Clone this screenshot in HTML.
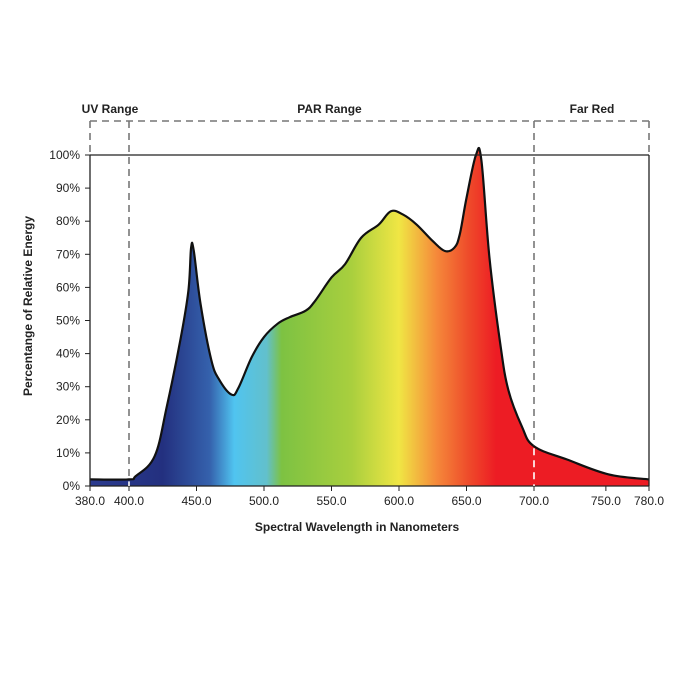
<!DOCTYPE html>
<html><head><meta charset="utf-8"><style>
body{margin:0;background:#fff}
svg{display:block;font-family:"Liberation Sans",Arial,sans-serif}
</style></head><body>
<svg id="chart" width="700" height="700" viewBox="0 0 700 700">
<defs><linearGradient id="spec" gradientUnits="userSpaceOnUse" x1="90" y1="0" x2="649" y2="0"></linearGradient></defs>
<g id="marks"></g>
<g id="axes"></g>
</svg>
<script>
const wavelengths=[380,400,405,419,428,438,444,446,448,453,461,467,476,481,491,500,510,519,531,538,550,560,572,585,594,603,613,625,634,641,645,650,657,661,667,675,681,691,700,723,752,780];
const energy=[2,2,3,9,24,44,59,72,71,55,38,32,27.6,29.6,39,45,49,51,53,56,63,67,75,79,83,82,79,74,71,72,76,87,100,98.5,69,43,29,18,12,8,3.5,2];
const yTicks=[0,10,20,30,40,50,60,70,80,90,100];
const xTicks=[380,400,450,500,550,600,650,700,750,780];
const ranges=[{label:"UV Range",from:380,to:400},{label:"PAR Range",from:400,to:700},{label:"Far Red",from:700,to:780}];
const colorStops=[[380,"#2b3b8f"],[425,"#23307f"],[460,"#3562ad"],[478,"#50c4f0"],[502,"#62c0cc"],[513,"#7dc242"],[565,"#a9cf3e"],[600,"#f0e644"],[628,"#f5883a"],[652,"#ee4a2a"],[672,"#ed1c24"],[780,"#ed1c24"]];

const dom=[380,400,700,780], rng=[90,129,534,649];
function X(v){for(let i=0;i<dom.length-1;i++){if(v<=dom[i+1]||i==dom.length-2){return rng[i]+(v-dom[i])/(dom[i+1]-dom[i])*(rng[i+1]-rng[i]);}}}
function Y(p){return 486-p*3.31;}
const NS="http://www.w3.org/2000/svg";
const svg=document.getElementById('chart'),marks=document.getElementById('marks'),axes=document.getElementById('axes');
function mk(tag,attrs,parent){const e=document.createElementNS(NS,tag);for(const k in attrs)e.setAttribute(k,attrs[k]);parent.appendChild(e);return e;}

const grad=document.getElementById('spec');
colorStops.forEach(s=>{mk('stop',{offset:((X(s[0])-90)/559).toFixed(4),'stop-color':s[1]},grad);});

// smooth path (Catmull-Rom)
const pts=wavelengths.map((w,i)=>[X(w),Y(energy[i])]);
function smooth(p){let d=`M${p[0][0]},${p[0][1]}`;for(let i=0;i<p.length-1;i++){const p0=p[i-1]||p[i],p1=p[i],p2=p[i+1],p3=p[i+2]||p2;const t=0.18;
d+=` C${p1[0]+(p2[0]-p0[0])*t},${p1[1]+(p2[1]-p0[1])*t} ${p2[0]-(p3[0]-p1[0])*t},${p2[1]-(p3[1]-p1[1])*t} ${p2[0]},${p2[1]}`;}return d;}
const line=smooth(pts);
const area=mk('path',{d:line+` L${X(780)},486 L${X(380)},486 Z`,fill:'url(#spec)'},marks);


const outline=mk('path',{d:line,fill:'none',stroke:'#111','stroke-width':2.2,'stroke-linejoin':'round'},marks);



// frame
const frame=mk('path',{d:'M90,155 H649 M90,155 V486 M649,155 V486 M90,486 H649',stroke:'#222','stroke-width':1.3,fill:'none'},axes);



// range brackets
const dash=mk('path',{d:`M${X(380)},121 H${X(780)} M${X(380)},121 V155 M${X(780)},121 V155`,stroke:'#777','stroke-width':1.6,'stroke-dasharray':'7,5',fill:'none'},axes);


[400,700].forEach(v=>{
 const l=mk('line',{x1:X(v),x2:X(v),y1:121,y2:Y(energy[wavelengths.indexOf(v)])-1,stroke:'#777','stroke-width':1.6,'stroke-dasharray':'7,5'},axes);
 
 
 const w=mk('line',{x1:X(v),x2:X(v),y1:Y(energy[wavelengths.indexOf(v)])+2,y2:486,stroke:'#fff','stroke-width':1.6,'stroke-dasharray':'7,5'},axes);
 
 
});
ranges.forEach(r=>{
 const cx=r.label==="UV Range"?110:(r.label==="Far Red"?592:(X(r.from)+X(r.to))/2-2);
 const t=mk('text',{x:cx,y:113,'text-anchor':'middle','font-size':12,'font-weight':'bold',fill:'#222'},axes);
 t.textContent=r.label;
 
 
});

// y ticks
yTicks.forEach(v=>{
 const tk=mk('line',{x1:85,x2:90,y1:Y(v),y2:Y(v),stroke:'#222'},axes);
 
 
 const t=mk('text',{x:80,y:Y(v)+4,'text-anchor':'end','font-size':12,fill:'#222'},axes);
 t.textContent=v+'%';
 
 
});
// x ticks
xTicks.forEach(v=>{
 const tk=mk('line',{x1:X(v),x2:X(v),y1:486,y2:491,stroke:'#222'},axes);
 
 
 const t=mk('text',{x:X(v),y:505,'text-anchor':'middle','font-size':12,fill:'#222'},axes);
 t.textContent=v.toFixed(1);
 
 
});
const xt=mk('text',{x:357,y:531,'text-anchor':'middle','font-size':12,'font-weight':'bold',fill:'#222'},axes);
xt.textContent='Spectral Wavelength in Nanometers';


const yt=mk('text',{x:0,y:0,'text-anchor':'middle','font-size':12,'font-weight':'bold',fill:'#222',transform:'translate(32,306) rotate(-90)'},axes);
yt.textContent='Percentange of Relative Energy';


</script>
</body></html>
